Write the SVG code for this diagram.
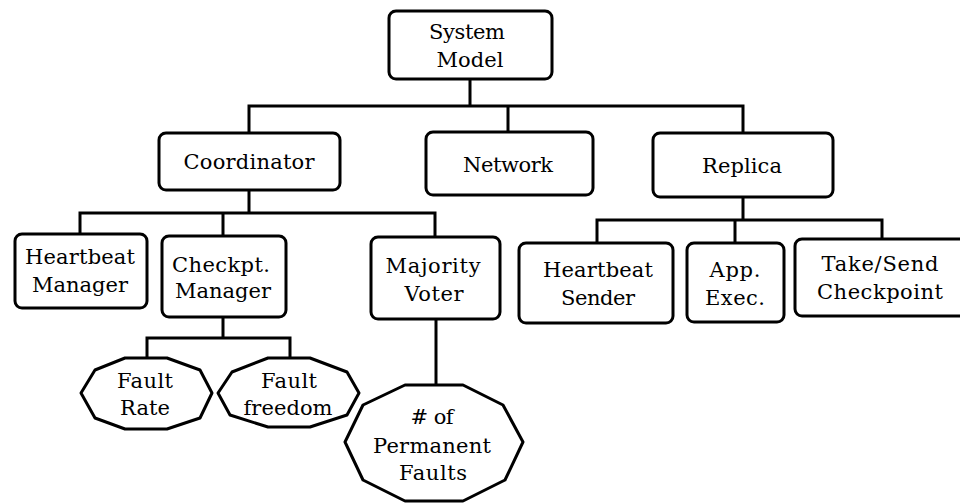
<svg xmlns="http://www.w3.org/2000/svg" width="960" height="504" viewBox="0 0 960 504">
  <style>
    .box { fill: #ffffff; stroke: #000000; stroke-width: 3; }
    .oct { fill: #ffffff; stroke: #000000; stroke-width: 3; stroke-linejoin: round; }
    .wire { fill: none; stroke: #000000; stroke-width: 3; stroke-linecap: square; }
    .lbl { font-family: "DejaVu Serif", "Liberation Serif", serif; font-size: 21px; fill: #000000; text-anchor: middle; }
  </style>
  <rect width="960" height="504" fill="#ffffff"/>

  <!-- tree connectors -->
  <g id="connectors" class="wire">
    <path d="M470 80 V106 M249 106 H743 M249 106 V133 M508 106 V132 M743 106 V133"/>
    <path d="M249 190 V213 M80 213 H435 M80 213 V234 M223 213 V236 M435 213 V237"/>
    <path d="M743 197 V220 M597 220 H882 M597 220 V243 M735 220 V243 M882 220 V239"/>
    <path d="M223 317 V338 M147 338 H290 M147 338 V357 M290 338 V357"/>
    <path d="M436 319 V385"/>
  </g>

  <g id="system-model">
    <rect class="box" x="389" y="11" width="163" height="68" rx="7"/>
    <text class="lbl" x="467" y="39" textLength="76" lengthAdjust="spacing">System</text>
    <text class="lbl" x="470" y="67" textLength="67" lengthAdjust="spacing">Model</text>
  </g>

  <g id="coordinator">
    <rect class="box" x="159" y="133" width="181" height="57" rx="7"/>
    <text class="lbl" x="249" y="169" textLength="131" lengthAdjust="spacing">Coordinator</text>
  </g>

  <g id="network">
    <rect class="box" x="426" y="132" width="167" height="63" rx="7"/>
    <text class="lbl" x="508" y="172" textLength="90" lengthAdjust="spacing">Network</text>
  </g>

  <g id="replica">
    <rect class="box" x="653" y="133" width="180" height="64" rx="7"/>
    <text class="lbl" x="742" y="173" textLength="80" lengthAdjust="spacing">Replica</text>
  </g>

  <g id="heartbeat-manager">
    <rect class="box" x="15" y="234" width="132" height="74" rx="7"/>
    <text class="lbl" x="80" y="264" textLength="110" lengthAdjust="spacing">Heartbeat</text>
    <text class="lbl" x="80" y="292" textLength="96" lengthAdjust="spacing">Manager</text>
  </g>

  <g id="checkpt-manager">
    <rect class="box" x="162" y="236" width="124" height="81" rx="7"/>
    <text class="lbl" x="221" y="272" textLength="98" lengthAdjust="spacing">Checkpt.</text>
    <text class="lbl" x="223" y="298" textLength="96" lengthAdjust="spacing">Manager</text>
  </g>

  <g id="majority-voter">
    <rect class="box" x="371" y="237" width="129" height="82" rx="7"/>
    <text class="lbl" x="433" y="273" textLength="95" lengthAdjust="spacing">Majority</text>
    <text class="lbl" x="434" y="301" textLength="59" lengthAdjust="spacing">Voter</text>
  </g>

  <g id="heartbeat-sender">
    <rect class="box" x="519" y="243" width="154" height="80" rx="7"/>
    <text class="lbl" x="598" y="277" textLength="110" lengthAdjust="spacing">Heartbeat</text>
    <text class="lbl" x="598" y="305" textLength="74" lengthAdjust="spacing">Sender</text>
  </g>

  <g id="app-exec">
    <rect class="box" x="687" y="243" width="97" height="79" rx="7"/>
    <text class="lbl" x="735" y="277" textLength="51" lengthAdjust="spacing">App.</text>
    <text class="lbl" x="735" y="305" textLength="60" lengthAdjust="spacing">Exec.</text>
  </g>

  <g id="take-send-checkpoint">
    <rect class="box" x="795" y="239" width="180" height="77" rx="7"/>
    <text class="lbl" x="880" y="271" textLength="117" lengthAdjust="spacing">Take/Send</text>
    <text class="lbl" x="880" y="299" textLength="126" lengthAdjust="spacing">Checkpoint</text>
  </g>

  <g id="fault-rate">
    <polygon class="oct" points="125,358 167,358 200,370 212,393 200,418 167,429 125,429 95,418 81,393 95,370"/>
    <text class="lbl" x="145" y="388" textLength="56" lengthAdjust="spacing">Fault</text>
    <text class="lbl" x="145" y="415" textLength="50" lengthAdjust="spacing">Rate</text>
  </g>

  <g id="fault-freedom">
    <polygon class="oct" points="268,358 310,358 347,372 359,393 347,415 310,427 268,427 230,415 218,393 232,372"/>
    <text class="lbl" x="289" y="388" textLength="56" lengthAdjust="spacing">Fault</text>
    <text class="lbl" x="288" y="415" textLength="89" lengthAdjust="spacing">freedom</text>
  </g>

  <g id="permanent-faults">
    <polygon class="oct" points="405,385 463,385 503,405 523,442 505,480 463,501 405,501 363,480 345,442 363,405"/>
    <text class="lbl" x="432" y="424" textLength="43" lengthAdjust="spacing"># of</text>
    <text class="lbl" x="432" y="453" textLength="118" lengthAdjust="spacing">Permanent</text>
    <text class="lbl" x="433" y="480" textLength="68" lengthAdjust="spacing">Faults</text>
  </g>
</svg>
